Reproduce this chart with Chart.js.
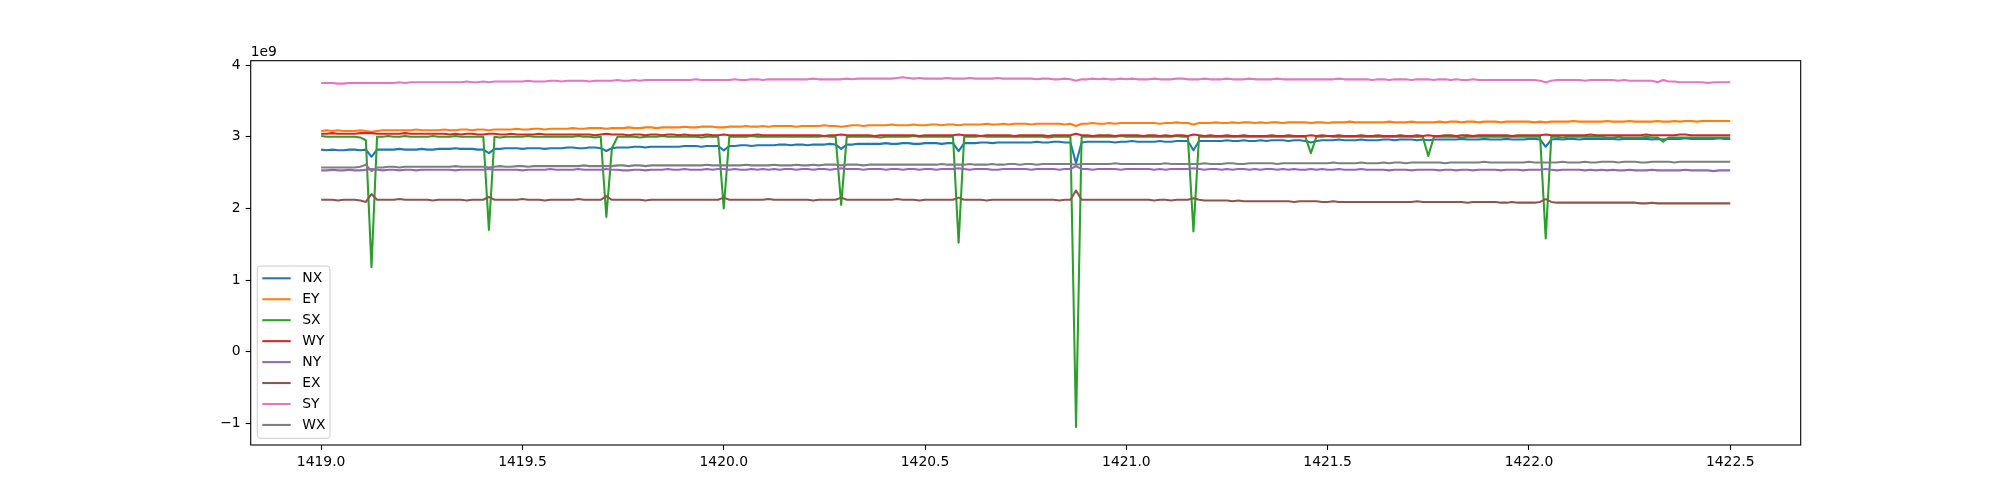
<!DOCTYPE html>
<html>
<head>
<meta charset="utf-8">
<script src="https://cdn.jsdelivr.net/npm/chart.js@4.4.0/dist/chart.umd.min.js"></script>
<style>
  body { margin: 0; background: #fff; }
  canvas { display: block; }
</style>
</head>
<body>
<canvas id="chart" width="2000" height="500"></canvas>
<script>
const seriesNames = ['NX', 'EY', 'SX', 'WY', 'NY', 'EX', 'SY', 'WX'];
const seriesColors = ['#1f77b4', '#ff7f0e', '#2ca02c', '#d62728', '#9467bd', '#8c564b', '#e377c2', '#7f7f7f'];

// time axis: one sample every 20 minutes (1/72 day) from 1419.0 to 1422.5
const tStart = 1419.0;
const tStep = 1 / 72;

const xTicks = [1419.0, 1419.5, 1420.0, 1420.5, 1421.0, 1421.5, 1422.0, 1422.5];
const yTicks = [-1, 0, 1, 2, 3, 4];
const yOffsetLabel = '1e9';

// values in units of 1e9, 21 samples per line
const nx = [
  2.82,2.81,2.82,2.81,2.81,2.82,2.82,2.81,2.82,2.72,2.82,2.82,2.82,2.82,2.83,2.82,2.82,2.82,2.83,2.82,2.82,
  2.83,2.83,2.83,2.84,2.83,2.83,2.83,2.82,2.82,2.77,2.83,2.83,2.84,2.84,2.84,2.83,2.84,2.84,2.84,2.83,2.84,
  2.84,2.84,2.85,2.85,2.84,2.84,2.85,2.85,2.84,2.80,2.84,2.85,2.85,2.85,2.86,2.86,2.85,2.86,2.86,2.86,2.86,
  2.86,2.86,2.87,2.87,2.87,2.86,2.87,2.87,2.87,2.81,2.87,2.87,2.88,2.88,2.87,2.88,2.88,2.88,2.88,2.89,2.89,
  2.88,2.89,2.89,2.88,2.89,2.89,2.89,2.90,2.89,2.83,2.89,2.89,2.90,2.90,2.90,2.90,2.90,2.91,2.90,2.90,2.91,
  2.91,2.90,2.90,2.91,2.91,2.91,2.90,2.91,2.91,2.80,2.91,2.91,2.91,2.92,2.92,2.91,2.92,2.92,2.92,2.92,2.92,
  2.92,2.92,2.93,2.92,2.92,2.93,2.93,2.92,2.92,2.63,2.92,2.93,2.93,2.93,2.93,2.93,2.92,2.93,2.93,2.94,2.93,
  2.93,2.93,2.93,2.94,2.93,2.93,2.94,2.94,2.94,2.81,2.94,2.94,2.94,2.94,2.94,2.95,2.94,2.94,2.95,2.94,2.94,
  2.95,2.94,2.95,2.95,2.95,2.94,2.95,2.95,2.94,2.92,2.94,2.95,2.95,2.95,2.96,2.95,2.95,2.95,2.96,2.95,2.95,
  2.95,2.96,2.96,2.95,2.96,2.96,2.96,2.95,2.96,2.95,2.96,2.96,2.96,2.96,2.96,2.97,2.96,2.96,2.96,2.97,2.96,
  2.96,2.96,2.97,2.96,2.96,2.96,2.97,2.97,2.96,2.86,2.96,2.97,2.96,2.97,2.97,2.96,2.97,2.97,2.97,2.97,2.97,
  2.97,2.96,2.97,2.97,2.97,2.97,2.97,2.96,2.97,2.96,2.97,2.97,2.97,2.98,2.97,2.97,2.97,2.97,2.97,2.98,2.97,
  2.97
];
const ey = [
  3.08,3.09,3.08,3.09,3.08,3.08,3.08,3.09,3.08,3.07,3.08,3.09,3.09,3.09,3.09,3.09,3.09,3.10,3.09,3.09,3.09,
  3.09,3.10,3.09,3.09,3.10,3.10,3.09,3.10,3.10,3.09,3.10,3.10,3.10,3.10,3.11,3.10,3.10,3.11,3.11,3.10,3.11,
  3.11,3.11,3.11,3.12,3.11,3.11,3.12,3.12,3.12,3.11,3.12,3.12,3.12,3.13,3.12,3.12,3.13,3.13,3.12,3.13,3.13,
  3.13,3.13,3.14,3.13,3.13,3.14,3.14,3.14,3.13,3.13,3.14,3.14,3.14,3.15,3.14,3.14,3.15,3.14,3.15,3.15,3.15,
  3.15,3.14,3.15,3.15,3.15,3.15,3.16,3.15,3.15,3.14,3.15,3.16,3.16,3.15,3.16,3.16,3.16,3.16,3.17,3.16,3.16,
  3.16,3.17,3.16,3.16,3.17,3.17,3.16,3.17,3.17,3.16,3.17,3.17,3.17,3.17,3.18,3.17,3.17,3.18,3.17,3.18,3.18,
  3.18,3.17,3.18,3.18,3.18,3.18,3.18,3.17,3.18,3.15,3.18,3.18,3.19,3.18,3.18,3.19,3.18,3.19,3.19,3.19,3.19,
  3.19,3.19,3.19,3.18,3.19,3.19,3.20,3.19,3.19,3.17,3.19,3.19,3.19,3.20,3.19,3.19,3.20,3.19,3.20,3.20,3.19,
  3.20,3.19,3.20,3.20,3.19,3.20,3.20,3.20,3.20,3.19,3.20,3.20,3.19,3.20,3.20,3.20,3.21,3.20,3.20,3.20,3.20,
  3.20,3.20,3.21,3.20,3.20,3.20,3.21,3.20,3.20,3.20,3.20,3.21,3.20,3.21,3.21,3.20,3.21,3.21,3.20,3.21,3.21,
  3.21,3.20,3.21,3.21,3.21,3.21,3.21,3.20,3.21,3.20,3.21,3.21,3.21,3.21,3.22,3.21,3.21,3.21,3.21,3.21,3.22,
  3.21,3.21,3.21,3.22,3.21,3.21,3.21,3.21,3.22,3.21,3.21,3.22,3.21,3.22,3.22,3.21,3.22,3.22,3.22,3.22,3.22,
  3.22
];
const sx = [
  3.01,3.00,3.00,3.00,3.00,3.00,3.00,2.99,2.95,1.18,3.00,3.00,3.01,3.00,3.00,3.01,3.00,3.00,3.00,3.00,3.01,
  3.00,3.00,3.00,3.01,3.00,3.00,3.00,3.00,3.00,1.70,3.00,2.99,3.00,3.00,3.00,3.00,3.01,3.00,3.00,3.00,3.00,
  3.00,3.00,3.00,3.00,3.01,3.00,3.00,2.99,3.00,1.88,2.84,3.00,3.00,3.00,3.00,2.99,3.00,3.00,3.00,3.01,3.00,
  3.00,3.00,3.00,3.00,3.00,2.99,3.00,3.00,3.00,2.00,3.00,3.00,3.00,3.00,3.01,3.00,3.00,3.00,3.00,3.00,3.00,
  3.00,3.00,3.00,3.00,3.00,3.00,3.01,3.00,3.00,2.05,3.00,3.00,3.00,3.00,3.00,3.00,2.99,3.00,3.00,3.00,3.00,
  3.00,3.01,3.00,3.00,3.00,3.00,3.00,3.00,3.00,1.52,3.00,3.00,3.00,3.01,3.00,3.00,3.00,3.00,3.00,3.00,3.00,
  3.00,3.00,3.00,3.00,2.99,3.00,3.00,3.00,3.00,-1.05,3.00,3.00,3.00,3.00,3.00,3.00,3.00,3.01,3.00,3.00,3.00,
  3.00,3.00,3.00,3.00,3.00,3.00,3.01,3.00,3.00,1.68,3.00,3.00,3.00,3.00,3.00,3.00,3.00,3.00,3.00,3.00,3.00,
  3.00,3.00,3.00,3.00,3.00,3.00,3.00,3.00,3.00,2.77,3.00,3.00,3.01,3.00,3.00,3.00,3.00,3.00,3.00,3.00,3.00,
  3.00,3.00,3.00,3.00,3.00,3.00,3.00,3.00,3.00,2.73,3.00,3.00,3.00,3.00,3.00,2.99,3.00,3.00,3.00,3.00,3.00,
  3.00,3.00,3.00,3.00,3.00,3.00,3.00,3.00,3.00,1.58,3.00,3.00,2.99,3.00,3.00,3.00,3.00,3.00,3.00,3.00,2.99,
  2.99,3.00,2.99,2.99,2.99,2.99,3.00,2.99,2.99,2.93,2.99,2.99,2.99,2.99,2.99,2.99,2.99,2.99,2.99,2.99,2.99,
  2.99
];
const wy = [
  3.04,3.04,3.05,3.04,3.04,3.04,3.04,3.05,3.05,3.05,3.04,3.04,3.04,3.04,3.04,3.05,3.04,3.04,3.04,3.04,3.04,
  3.04,3.04,3.03,3.04,3.03,3.04,3.04,3.03,3.03,3.04,3.04,3.03,3.03,3.04,3.03,3.03,3.03,3.03,3.04,3.03,3.03,
  3.03,3.03,3.03,3.03,3.03,3.03,3.03,3.02,3.03,3.04,3.03,3.03,3.03,3.02,3.03,3.03,3.02,3.03,3.03,3.02,3.03,
  3.03,3.02,3.03,3.02,3.02,3.02,3.03,3.02,3.02,3.03,3.02,3.02,3.02,3.02,3.02,3.03,3.02,3.02,3.02,3.02,3.02,
  3.02,3.02,3.02,3.02,3.02,3.02,3.01,3.02,3.02,3.03,3.02,3.02,3.02,3.02,3.02,3.01,3.02,3.02,3.02,3.02,3.02,
  3.02,3.02,3.01,3.02,3.02,3.02,3.02,3.02,3.02,3.03,3.02,3.02,3.02,3.01,3.02,3.02,3.02,3.02,3.02,3.01,3.02,
  3.02,3.02,3.02,3.02,3.01,3.02,3.02,3.02,3.02,3.04,3.02,3.02,3.01,3.02,3.02,3.02,3.01,3.02,3.02,3.02,3.02,
  3.01,3.02,3.02,3.01,3.02,3.01,3.02,3.02,3.01,3.03,3.02,3.01,3.02,3.01,3.01,3.02,3.01,3.01,3.02,3.01,3.01,
  3.01,3.01,3.02,3.01,3.01,3.02,3.01,3.01,3.01,3.02,3.01,3.02,3.01,3.01,3.02,3.01,3.01,3.01,3.02,3.01,3.01,
  3.02,3.01,3.01,3.01,3.02,3.01,3.01,3.02,3.01,3.02,3.01,3.01,3.02,3.02,3.01,3.02,3.02,3.01,3.02,3.02,3.02,
  3.02,3.02,3.02,3.01,3.02,3.02,3.02,3.02,3.02,3.03,3.02,3.02,3.02,3.02,3.02,3.02,3.02,3.03,3.02,3.02,3.02,
  3.02,3.02,3.02,3.02,3.02,3.02,3.03,3.02,3.02,3.02,3.02,3.02,3.03,3.03,3.02,3.02,3.02,3.02,3.02,3.02,3.02,
  3.02
];
const ny = [
  2.53,2.53,2.54,2.53,2.53,2.54,2.53,2.53,2.54,2.55,2.54,2.53,2.54,2.54,2.53,2.54,2.54,2.53,2.54,2.54,2.54,
  2.54,2.54,2.54,2.53,2.54,2.54,2.54,2.54,2.54,2.55,2.54,2.54,2.54,2.54,2.54,2.53,2.54,2.54,2.54,2.54,2.55,
  2.54,2.54,2.54,2.54,2.55,2.54,2.54,2.54,2.54,2.55,2.54,2.54,2.53,2.53,2.54,2.54,2.53,2.54,2.54,2.54,2.55,
  2.54,2.54,2.55,2.54,2.54,2.54,2.55,2.54,2.55,2.55,2.54,2.55,2.54,2.54,2.55,2.54,2.55,2.54,2.55,2.54,2.55,
  2.55,2.54,2.55,2.55,2.54,2.55,2.55,2.54,2.55,2.56,2.55,2.55,2.55,2.54,2.55,2.55,2.55,2.54,2.55,2.55,2.54,
  2.55,2.55,2.54,2.55,2.55,2.54,2.55,2.55,2.55,2.56,2.55,2.54,2.55,2.55,2.55,2.54,2.54,2.55,2.55,2.55,2.55,
  2.55,2.54,2.55,2.55,2.55,2.55,2.54,2.55,2.55,2.59,2.55,2.55,2.54,2.55,2.55,2.55,2.55,2.54,2.55,2.55,2.55,
  2.55,2.55,2.54,2.55,2.54,2.55,2.55,2.55,2.55,2.56,2.55,2.54,2.55,2.55,2.54,2.55,2.54,2.55,2.55,2.54,2.55,
  2.54,2.55,2.55,2.54,2.55,2.54,2.55,2.54,2.54,2.55,2.54,2.55,2.54,2.54,2.55,2.54,2.54,2.54,2.55,2.54,2.54,
  2.54,2.54,2.53,2.54,2.54,2.54,2.53,2.54,2.54,2.54,2.54,2.53,2.54,2.54,2.53,2.54,2.54,2.53,2.54,2.54,2.54,
  2.54,2.53,2.54,2.54,2.54,2.53,2.54,2.54,2.54,2.55,2.54,2.53,2.54,2.54,2.54,2.54,2.53,2.54,2.53,2.54,2.53,
  2.54,2.53,2.53,2.54,2.53,2.53,2.53,2.54,2.53,2.53,2.53,2.53,2.53,2.54,2.53,2.53,2.53,2.53,2.52,2.53,2.53,
  2.53
];
const ex = [
  2.12,2.12,2.12,2.11,2.12,2.12,2.12,2.11,2.09,2.20,2.12,2.12,2.12,2.12,2.13,2.12,2.12,2.12,2.12,2.12,2.11,
  2.12,2.12,2.12,2.12,2.12,2.11,2.12,2.12,2.12,2.16,2.12,2.12,2.12,2.12,2.12,2.13,2.12,2.12,2.12,2.11,2.12,
  2.12,2.12,2.12,2.12,2.13,2.12,2.12,2.12,2.12,2.17,2.12,2.12,2.12,2.12,2.12,2.12,2.11,2.12,2.12,2.12,2.12,
  2.12,2.12,2.12,2.12,2.12,2.12,2.12,2.12,2.12,2.15,2.12,2.12,2.12,2.12,2.12,2.12,2.12,2.13,2.12,2.12,2.12,
  2.12,2.12,2.12,2.12,2.11,2.12,2.12,2.12,2.12,2.15,2.12,2.12,2.12,2.12,2.12,2.12,2.12,2.12,2.12,2.13,2.12,
  2.12,2.12,2.11,2.12,2.12,2.12,2.12,2.12,2.12,2.15,2.12,2.12,2.12,2.12,2.11,2.12,2.12,2.12,2.12,2.12,2.12,
  2.12,2.12,2.12,2.12,2.12,2.12,2.11,2.12,2.12,2.25,2.12,2.12,2.12,2.12,2.12,2.12,2.12,2.12,2.12,2.12,2.12,
  2.12,2.12,2.11,2.12,2.12,2.11,2.12,2.12,2.12,2.14,2.12,2.11,2.11,2.11,2.11,2.11,2.10,2.11,2.10,2.10,2.10,
  2.10,2.10,2.10,2.10,2.10,2.10,2.09,2.10,2.10,2.10,2.10,2.09,2.09,2.10,2.09,2.09,2.09,2.09,2.09,2.09,2.09,
  2.09,2.09,2.09,2.09,2.09,2.09,2.09,2.10,2.09,2.09,2.09,2.09,2.09,2.09,2.09,2.09,2.08,2.09,2.09,2.09,2.09,
  2.09,2.08,2.08,2.09,2.08,2.08,2.08,2.08,2.09,2.13,2.09,2.08,2.08,2.08,2.08,2.08,2.08,2.08,2.08,2.08,2.08,
  2.08,2.08,2.08,2.08,2.08,2.07,2.07,2.08,2.07,2.07,2.07,2.07,2.07,2.07,2.07,2.07,2.07,2.07,2.07,2.07,2.07,
  2.07
];
const sy = [
  3.75,3.75,3.75,3.74,3.74,3.75,3.75,3.75,3.75,3.75,3.75,3.75,3.75,3.75,3.76,3.75,3.76,3.76,3.76,3.76,3.76,
  3.76,3.76,3.76,3.76,3.76,3.77,3.76,3.76,3.77,3.76,3.77,3.77,3.77,3.77,3.77,3.77,3.78,3.77,3.77,3.77,3.78,
  3.78,3.77,3.78,3.78,3.78,3.78,3.77,3.78,3.78,3.78,3.78,3.79,3.78,3.78,3.79,3.78,3.79,3.79,3.79,3.79,3.79,
  3.79,3.79,3.79,3.79,3.80,3.79,3.79,3.79,3.79,3.79,3.79,3.80,3.79,3.79,3.80,3.80,3.79,3.80,3.80,3.80,3.80,
  3.80,3.80,3.80,3.80,3.81,3.80,3.80,3.80,3.80,3.80,3.81,3.80,3.81,3.81,3.81,3.81,3.81,3.81,3.81,3.82,3.83,
  3.82,3.81,3.82,3.81,3.81,3.81,3.81,3.82,3.81,3.81,3.81,3.82,3.81,3.81,3.81,3.81,3.82,3.81,3.81,3.81,3.81,
  3.81,3.81,3.80,3.81,3.81,3.80,3.80,3.81,3.80,3.78,3.80,3.80,3.81,3.80,3.81,3.80,3.80,3.81,3.80,3.81,3.80,
  3.80,3.80,3.81,3.80,3.80,3.80,3.81,3.81,3.80,3.80,3.80,3.81,3.80,3.80,3.80,3.81,3.80,3.80,3.80,3.81,3.80,
  3.80,3.80,3.80,3.81,3.80,3.80,3.80,3.80,3.80,3.80,3.80,3.80,3.80,3.80,3.81,3.80,3.80,3.80,3.80,3.80,3.79,
  3.80,3.80,3.79,3.80,3.80,3.80,3.79,3.80,3.80,3.80,3.79,3.80,3.80,3.79,3.80,3.79,3.79,3.80,3.79,3.79,3.79,
  3.79,3.79,3.79,3.79,3.79,3.79,3.79,3.79,3.78,3.76,3.78,3.79,3.79,3.79,3.79,3.79,3.78,3.79,3.79,3.79,3.79,
  3.79,3.78,3.79,3.78,3.78,3.78,3.78,3.78,3.76,3.79,3.77,3.77,3.76,3.76,3.76,3.76,3.76,3.75,3.76,3.76,3.76,
  3.76
];
const wx = [
  2.57,2.57,2.57,2.57,2.57,2.57,2.57,2.58,2.61,2.52,2.57,2.57,2.58,2.58,2.57,2.58,2.58,2.58,2.58,2.58,2.58,
  2.58,2.58,2.58,2.59,2.58,2.58,2.58,2.58,2.58,2.57,2.58,2.59,2.58,2.58,2.59,2.59,2.58,2.59,2.59,2.59,2.59,
  2.59,2.59,2.59,2.59,2.59,2.60,2.59,2.59,2.59,2.59,2.59,2.60,2.60,2.59,2.60,2.60,2.59,2.60,2.60,2.60,2.60,
  2.60,2.60,2.60,2.60,2.60,2.60,2.61,2.60,2.60,2.60,2.60,2.60,2.60,2.61,2.60,2.60,2.60,2.60,2.61,2.60,2.60,
  2.60,2.61,2.60,2.60,2.61,2.60,2.61,2.61,2.61,2.60,2.61,2.61,2.61,2.60,2.61,2.61,2.61,2.61,2.61,2.61,2.61,
  2.61,2.61,2.61,2.61,2.61,2.61,2.62,2.61,2.61,2.61,2.61,2.62,2.61,2.61,2.61,2.62,2.61,2.61,2.62,2.62,2.61,
  2.62,2.62,2.61,2.62,2.62,2.62,2.62,2.62,2.62,2.61,2.62,2.62,2.62,2.62,2.62,2.62,2.63,2.62,2.62,2.62,2.62,
  2.62,2.62,2.62,2.62,2.63,2.62,2.62,2.62,2.62,2.62,2.62,2.63,2.62,2.62,2.62,2.63,2.63,2.62,2.62,2.63,2.63,
  2.63,2.63,2.63,2.62,2.63,2.63,2.63,2.63,2.63,2.63,2.63,2.63,2.63,2.64,2.63,2.63,2.63,2.63,2.64,2.63,2.63,
  2.63,2.64,2.63,2.64,2.64,2.63,2.64,2.64,2.64,2.64,2.64,2.64,2.63,2.64,2.64,2.64,2.64,2.64,2.64,2.65,2.64,
  2.64,2.64,2.64,2.64,2.64,2.64,2.65,2.64,2.64,2.64,2.64,2.64,2.65,2.64,2.64,2.64,2.65,2.64,2.64,2.65,2.65,
  2.65,2.64,2.65,2.65,2.65,2.64,2.64,2.65,2.65,2.65,2.65,2.64,2.65,2.65,2.65,2.65,2.65,2.65,2.65,2.65,2.65,
  2.65
];

const seriesValues = [nx, ey, sx, wy, ny, ex, sy, wx];

const FONT = { family: 'DejaVu Sans', size: 13.9 };
const LW = 2.08; // 1.5pt at 100 dpi

const datasets = seriesNames.map((name, i) => ({
  label: name,
  data: seriesValues[i].map((v, j) => ({ x: tStart + j * tStep, y: v })),
  borderColor: seriesColors[i],
  backgroundColor: seriesColors[i],
  borderWidth: LW,
  borderJoinStyle: 'round',
  pointRadius: 0,
  tension: 0,
  fill: false,
  // matplotlib draws later lines on top
  order: seriesNames.length - i
}));

// axes frame, offset label and the lower-left legend box
const mplExtras = {
  id: 'mplExtras',
  afterDatasetsDraw(chart) {
    const ctx = chart.ctx;
    const bx = 257.3, by = 266, bw = 72.7, bh = 172.3, r = 2.8;
    ctx.save();
    ctx.beginPath();
    ctx.moveTo(bx + r, by);
    ctx.arcTo(bx + bw, by, bx + bw, by + bh, r);
    ctx.arcTo(bx + bw, by + bh, bx, by + bh, r);
    ctx.arcTo(bx, by + bh, bx, by, r);
    ctx.arcTo(bx, by, bx + bw, by, r);
    ctx.closePath();
    ctx.fillStyle = 'rgba(255,255,255,0.8)';
    ctx.fill();
    ctx.strokeStyle = '#cccccc';
    ctx.lineWidth = 1;
    ctx.stroke();

    ctx.font = FONT.size + 'px "' + FONT.family + '"';
    ctx.textBaseline = 'middle';
    ctx.textAlign = 'left';
    chart.data.datasets.forEach((ds, i) => {
      const y = 278.3 + i * 20.95;
      ctx.beginPath();
      ctx.moveTo(262.3, y);
      ctx.lineTo(290.7, y);
      ctx.strokeStyle = ds.borderColor;
      ctx.lineWidth = LW;
      ctx.stroke();
      ctx.fillStyle = '#000';
      ctx.fillText(ds.label, 302.3, y + 0.5);
    });
    ctx.restore();
  },
  afterDraw(chart) {
    const { ctx, chartArea: a } = chart;
    ctx.save();
    ctx.strokeStyle = '#000';
    ctx.lineWidth = 1.1;
    ctx.strokeRect(a.left, a.top, a.right - a.left, a.bottom - a.top);
    ctx.font = FONT.size + 'px "' + FONT.family + '"';
    ctx.fillStyle = '#000';
    ctx.textAlign = 'left';
    ctx.textBaseline = 'alphabetic';
    ctx.fillText(yOffsetLabel, a.left, a.top - 5);
    ctx.restore();
  }
};

new Chart(document.getElementById('chart'), {
  type: 'line',
  data: { datasets: datasets },
  plugins: [mplExtras],
  options: {
    responsive: false,
    devicePixelRatio: 1,
    animation: false,
    layout: { padding: { left: 0.7, right: 199.3, top: 60.7, bottom: 0 } },
    plugins: {
      legend: { display: false },
      tooltip: { enabled: false }
    },
    scales: {
      x: {
        type: 'linear',
        min: 1418.825,
        max: 1422.675,
        afterBuildTicks: s => { s.ticks = xTicks.map(v => ({ value: v })); },
        afterFit: s => { s.height = 55; },
        ticks: {
          callback: v => Number(v).toFixed(1),
          font: FONT,
          color: '#000',
          padding: 4,
          maxRotation: 0,
          autoSkip: false
        },
        grid: { drawOnChartArea: false, drawTicks: true, tickLength: 5, tickColor: '#000', tickWidth: 1.1 },
        border: { display: false }
      },
      y: {
        min: -1.3,
        max: 4.06,
        afterBuildTicks: s => { s.ticks = yTicks.map(v => ({ value: v })); },
        afterFit: s => { s.width = 250; },
        ticks: {
          callback: v => (v < 0 ? '\u2212' + Math.abs(v) : String(v)),
          font: FONT,
          color: '#000',
          padding: 5
        },
        grid: { drawOnChartArea: false, drawTicks: true, tickLength: 5, tickColor: '#000', tickWidth: 1.1 },
        border: { display: false }
      }
    }
  }
});
</script>
</body>
</html>
